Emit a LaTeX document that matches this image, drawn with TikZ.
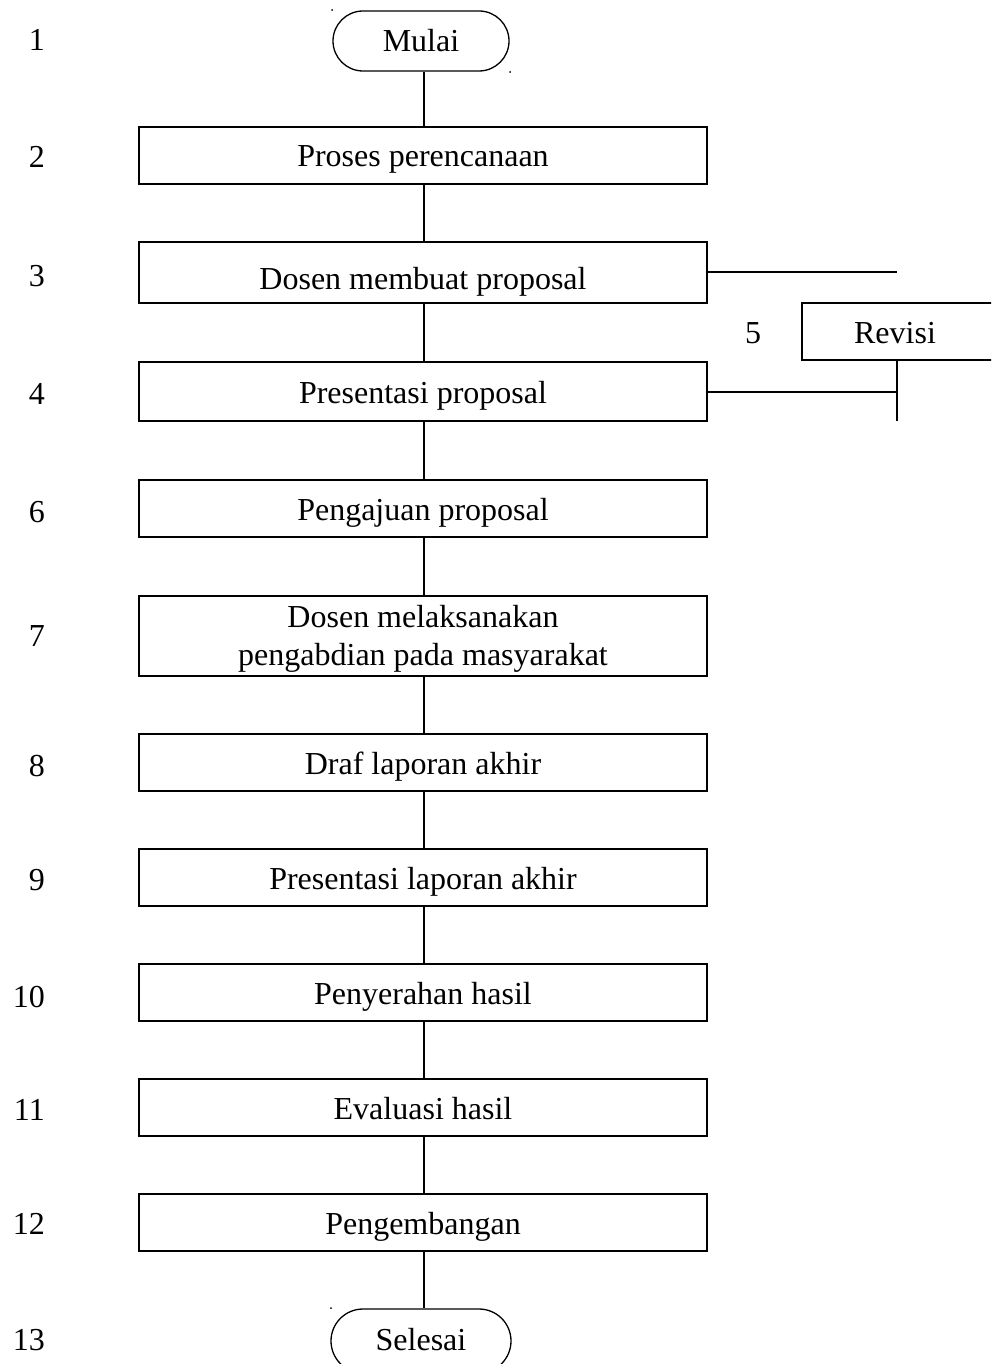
\documentclass[tikz,border=0pt]{standalone}
\usepackage{fontspec}
\setmainfont{Liberation Serif}
\begin{document}
\begin{tikzpicture}[x=1pt,y=-1pt,
  every node/.style={font=\fontsize{32}{38}\selectfont, inner sep=0pt},
  procbox/.style={draw, line width=1.3pt, minimum width=568pt, minimum height=57pt, align=center, text height=24pt, text depth=1pt},
  termbox/.style={draw, line width=1.3pt, rounded corners=30pt, minimum width=176pt, minimum height=60pt},
  numlbl/.style={anchor=east},
  conn/.style={line width=1.3pt}]
\useasboundingbox (0,0) rectangle (991,1364);
\clip (0,0) rectangle (991,1364);
\fill[white] (0,0) rectangle (991,1364);
% terminators
\node[termbox] (start) at (421,41) {Mulai};
\node[termbox, minimum width=180pt, minimum height=64pt, rounded corners=32pt, text height=18pt, text depth=0pt] (stop) at (421,1341) {Selesai};
% process boxes
\node[procbox] (b2) at (423,155.5) {Proses perencanaan};
\node[procbox, minimum height=61pt, text height=33pt, text depth=0pt] (b3) at (423,272.5) {Dosen membuat proposal};
\node[procbox, minimum height=59pt] (b4) at (423,391.5) {Presentasi proposal};
\node[procbox] (b6) at (423,508.5) {Pengajuan proposal};
\node[procbox, minimum height=80pt, text height=58pt, text depth=0pt, inner ysep=-8pt] (b7) at (423,636) {Dosen melaksanakan\\pengabdian pada masyarakat};
\node[procbox] (b8) at (423,762.5) {Draf laporan akhir};
\node[procbox] (b9) at (423,877.5) {Presentasi laporan akhir};
\node[procbox] (b10) at (423,992.5) {Penyerahan hasil};
\node[procbox] (b11) at (423,1107.5) {Evaluasi hasil};
\node[procbox] (b12) at (423,1222.5) {Pengembangan};
\node[draw, line width=1.3pt, minimum width=200pt, minimum height=57pt, text height=24pt, text depth=1pt] (rev) at (902,331.5) {\hspace*{-14pt}Revisi};
% numbers
\node[numlbl] (n1) at (45,40) {1};
\node[numlbl] (n2) at (45,157) {2};
\node[numlbl] (n3) at (45,276) {3};
\node[numlbl] (n4) at (45,394) {4};
\node (n5) at (753,333) {5};
\node[numlbl] (n6) at (45,512) {6};
\node[numlbl] (n7) at (45,636) {7};
\node[numlbl] (n8) at (45,766) {8};
\node[numlbl] (n9) at (45,880) {9};
\node[numlbl] (n10) at (45,997) {10};
\node[numlbl] (n11) at (45,1110) {11};
\node[numlbl] (n12) at (45,1224) {12};
\node[numlbl] (n13) at (45,1340) {13};
% connectors
\coordinate (s1) at (424,71);
\draw[conn] (start.south -| s1) -- (b2.north -| s1);
\draw[conn] (b2.south -| s1) -- (b3.north -| s1);
\draw[conn] (b3.south -| s1) -- (b4.north -| s1);
\draw[conn] (b4.south -| s1) -- (b6.north -| s1);
\draw[conn] (b6.south -| s1) -- (b7.north -| s1);
\draw[conn] (b7.south -| s1) -- (b8.north -| s1);
\draw[conn] (b8.south -| s1) -- (b9.north -| s1);
\draw[conn] (b9.south -| s1) -- (b10.north -| s1);
\draw[conn] (b10.south -| s1) -- (b11.north -| s1);
\draw[conn] (b11.south -| s1) -- (b12.north -| s1);
\draw[conn] (b12.south -| s1) -- (stop.north -| s1);
% revision loop
\coordinate (r1) at (897,272);
\coordinate (r2) at (897,392);
\coordinate (r3) at (897,421);
\draw[conn] (b3.east |- r1) -- (r1);
\draw[conn] (b4.east |- r2) -- (r2);
\draw[conn] (rev.south -| r3) -- (r3);
% small dots
\fill (332,10) circle (1pt);
\fill (510,72) circle (1pt);
\fill (331,1308) circle (1pt);
\end{tikzpicture}
\end{document}
